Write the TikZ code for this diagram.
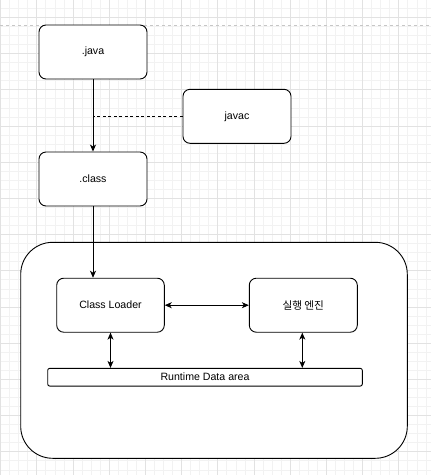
\documentclass[tikz,border=0pt]{standalone}
\usepackage{fontspec}
\setmainfont{Liberation Sans}
\newfontfamily\krfont{Noto Sans CJK KR}
\usetikzlibrary{arrows.meta}
\definecolor{gridminor}{HTML}{F2F2F2}
\definecolor{gridmajor}{HTML}{E2E2E2}
\begin{document}
\begin{tikzpicture}[x=1pt,y=-1pt,
  box/.style={draw=black,line width=0.9pt,fill=white,rounded corners=7pt,
    minimum width=108pt,minimum height=54pt,inner sep=0pt,
    font=\fontsize{10.6}{12}\selectfont},
  conn/.style={draw=black,line width=0.9pt},
  tip/.style={-{Stealth[length=7pt,width=6pt,inset=2pt]}},
  dtip/.style={{Stealth[length=7pt,width=6pt,inset=2pt]}-{Stealth[length=7pt,width=6pt,inset=2pt]}}]
\useasboundingbox (0,0) rectangle (431,475);
\fill[white] (0,0) rectangle (431,475);
% grid
\foreach \i in {0,...,48} {
  \pgfmathsetmacro{\gx}{0.5+9.05*\i}
  \draw[gridminor,line width=0.6pt] (\gx,0) -- (\gx,475);
}
\foreach \i in {0,...,53} {
  \pgfmathsetmacro{\gy}{-0.8+9.05*\i}
  \draw[gridminor,line width=0.6pt] (0,\gy) -- (431,\gy);
}
\foreach \i in {0,...,12} {
  \pgfmathsetmacro{\gx}{0.5+36.2*\i}
  \draw[gridmajor,line width=0.7pt] (\gx,0) -- (\gx,475);
}
\foreach \i in {0,...,13} {
  \pgfmathsetmacro{\gy}{17.3+36.2*\i}
  \draw[gridmajor,line width=0.7pt] (0,\gy) -- (431,\gy);
}
\draw[gray!45,dashed,dash pattern=on 3pt off 3pt,line width=0.6pt] (0,25) -- (431,25);
% nodes
\node[box] (java) at (93,52) {.java};
\node[box] (javac) at (237,116.3) {javac};
\node[box] (class) at (93,179) {.class};
\node[draw=black,line width=0.9pt,fill=white,rounded corners=32pt,
  minimum width=386.6pt,minimum height=216pt,inner sep=0pt] (jvm) at (214,350.3) {};
\node[box,minimum width=107.6pt] (cl) at (110.5,305.2) {Class Loader};
\node[box] (eng) at (303.3,305.2) {\krfont 실행 엔진};
\node[box,minimum width=314.6pt,minimum height=17.7pt,rounded corners=2pt] (rda) at (205,377.2) {Runtime Data area};
% connectors
\draw[conn,tip] (java.south) -- (class.north);
\draw[conn,dashed,dash pattern=on 3pt off 2.5pt] (javac.west) -- (javac.west -| java.south);
\draw[conn,tip] (class.south) -- (class.south |- cl.north);
\draw[conn,dtip] (cl.east) -- (eng.west);
\draw[conn,dtip] (cl.south) -- (cl.south |- rda.north);
\draw[conn,dtip] ([xshift=-1pt]eng.south) -- ([xshift=-1pt]eng.south |- rda.north);
\end{tikzpicture}
\end{document}
